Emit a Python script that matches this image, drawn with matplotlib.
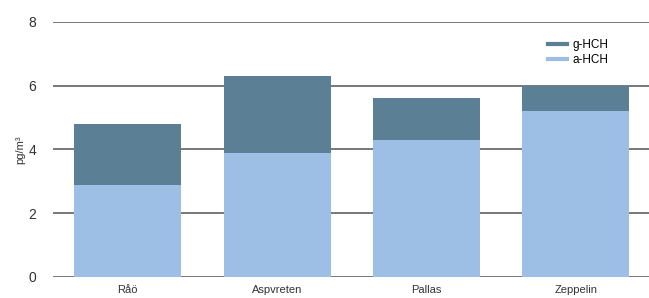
import numpy as np
import matplotlib as mpl
mpl.use("Agg")
import matplotlib.pyplot as plt
from matplotlib.lines import Line2D

stations = ["Råö", "Aspvreten", "Pallas", "Zeppelin"]
a_hch = [2.9, 3.9, 4.3, 5.2]
g_hch = [1.9, 2.4, 1.3, 0.8]

c_dark = "#5b7f95"
c_light = "#9ebfe5"

plt.rcParams['font.family'] = ['Liberation Sans Narrow', 'Liberation Sans', 'DejaVu Sans']

fig = plt.figure(figsize=(6.49, 2.98), dpi=100)
ax = fig.add_axes([0.0817, 0.0705, 0.9183, 0.8557])

x = np.arange(len(stations))
ax.bar(x, a_hch, width=0.716, color=c_light, zorder=2)
ax.bar(x, g_hch, width=0.716, bottom=a_hch, color=c_dark, zorder=2)

ax.set_ylim(0, 8)
ax.set_yticks([0, 2, 4, 6, 8])
ax.set_xlim(-0.5, 3.49)
ax.set_xticks(x)
ax.set_xticklabels(stations, fontsize=8, color="#333333")
ax.tick_params(axis="y", length=0, pad=12, labelsize=10, labelcolor="#333333")
ax.tick_params(axis="x", length=0, pad=6)
ax.yaxis.grid(True, color="#777777", linewidth=1.4, zorder=1)
for s in ax.spines.values():
    s.set_visible(False)
ax.set_ylabel("pg/m³", fontsize=8, color="#333333", labelpad=2)

handles = [Line2D([0], [0], color=c_dark, lw=3), Line2D([0], [0], color=c_light, lw=3)]
ax.legend(handles, ["g-HCH", "a-HCH"], loc="upper right", bbox_to_anchor=(0.95, 0.975),
          frameon=False, fontsize=8.5, handlelength=1.6, labelspacing=0.25,
          handletextpad=0.5)

fig.savefig("out.png", dpi=100)
